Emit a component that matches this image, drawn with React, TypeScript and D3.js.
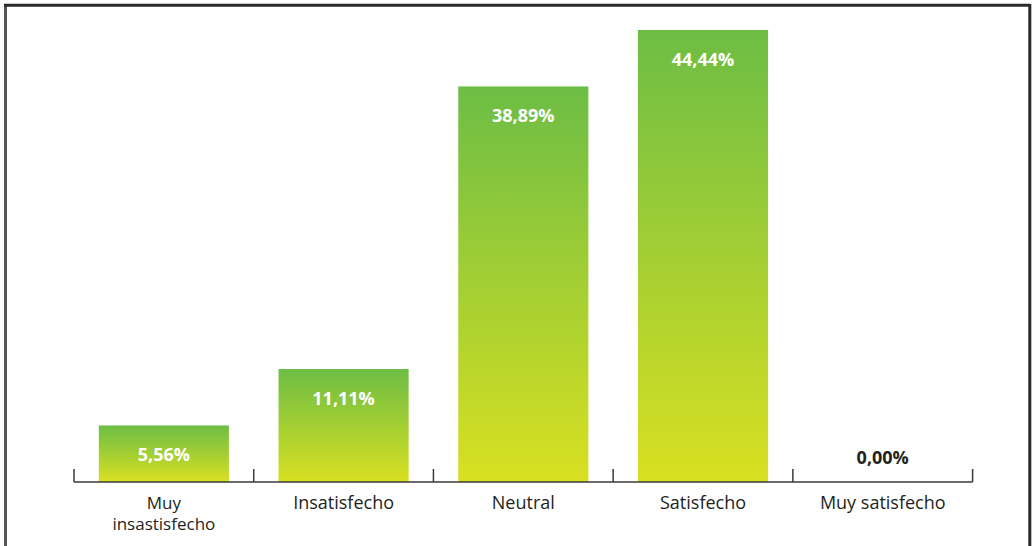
import React from "react";
import * as d3 from "d3";

const categories: string[][] = [["Muy", "insastisfecho"], ["Insatisfecho"], ["Neutral"], ["Satisfecho"], ["Muy satisfecho"]];
const values: number[] = [5.56, 11.11, 38.89, 44.44, 0];
const valueLabels: string[] = ["5,56%", "11,11%", "38,89%", "44,44%", "0,00%"];

export default function App() {
  const W = 1034, H = 546;
  const x0 = 74, x1 = 972.6, base = 482;
  const keys = categories.map((_, i) => String(i));
  const x = d3.scaleBand<string>().domain(keys).range([x0, x1]).paddingInner(0.276).paddingOuter(0.138);
  const y = d3.scaleLinear().domain([0, 44.44]).range([base, 30]);
  const ticks = d3.range(keys.length + 1).map((i) => x0 + i * ((x1 - x0) / keys.length));
  const font = "'Open Sans', sans-serif";
  return (
    <svg width={W} height={H} style={{ position: "absolute", left: 0, top: 0 }}>
      <defs>
        <linearGradient id="g" x1="0" y1="0" x2="0" y2="1">
          <stop offset="0" stopColor="#6dbd45" />
          <stop offset="1" stopColor="#d9e021" />
        </linearGradient>
      </defs>
      <rect x={0} y={0} width={W} height={H} fill="#fff" />
      <line x1={5.5} y1={5.3} x2={5.5} y2={H} stroke="#555" strokeWidth={3} />
      <line x1={4} y1={5.3} x2={1030} y2={5.3} stroke="#2a2a2a" strokeWidth={3} />
      <line x1={1029.8} y1={4} x2={1029.8} y2={H} stroke="#2a2a2a" strokeWidth={3} />
      {values.map((v, i) => {
        const bx = x(String(i))!;
        const top = y(v);
        const cx = bx + x.bandwidth() / 2;
        return (
          <g key={i}>
            {v > 0 && <rect x={bx} y={top} width={x.bandwidth()} height={base - top} fill="url(#g)" />}
            <text x={cx} y={v > 0 ? top + 36 : base - 18} textAnchor="middle" fontFamily={font} fontWeight={700} fontSize={18} fill={v > 0 ? "#fff" : "#231f20"}>
              {valueLabels[i]}
            </text>
            {categories[i].map((line, j) => (
              <text key={j} x={cx} y={509 + j * 21} textAnchor="middle" fontFamily={font} fontSize={categories[i].length > 1 ? 17 : 18} fill="#231f20">
                {line}
              </text>
            ))}
          </g>
        );
      })}
      <line x1={x0} y1={base} x2={x1} y2={base} stroke="#3a3a3a" strokeWidth={1.5} />
      {ticks.map((t, i) => (
        <line key={i} x1={t} y1={base} x2={t} y2={base - 13} stroke="#3a3a3a" strokeWidth={1.5} />
      ))}
    </svg>
  );
}
